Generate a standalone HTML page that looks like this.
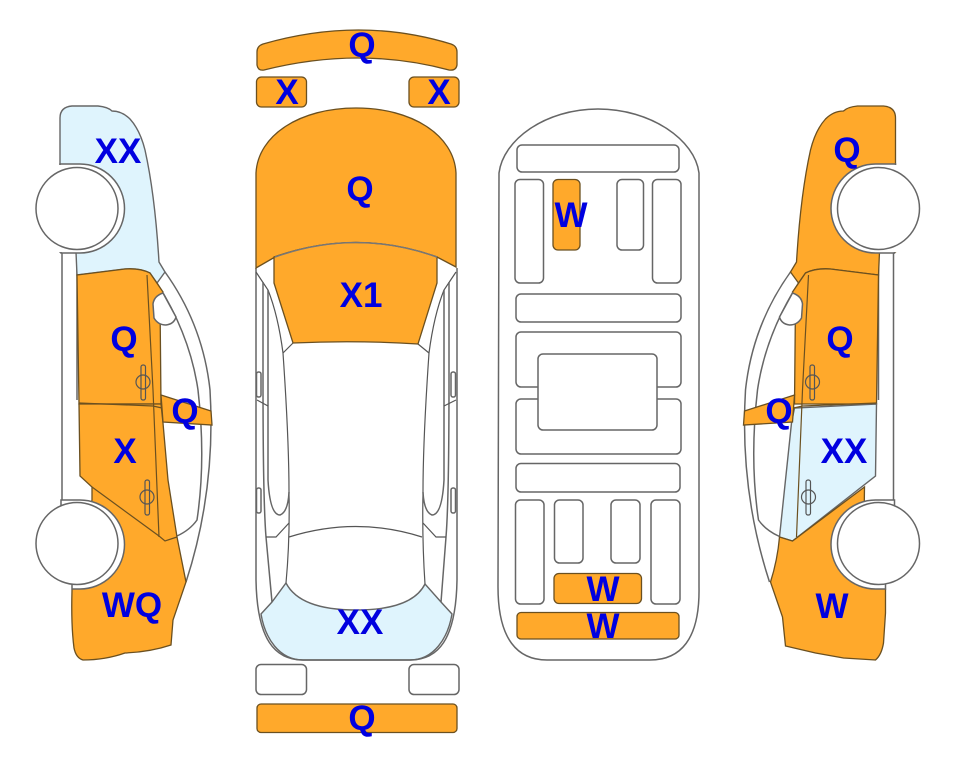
<!DOCTYPE html>
<html><head><meta charset="utf-8"><style>
html,body{margin:0;padding:0;background:#fff}
svg{display:block}
text{font-family:"Liberation Sans",sans-serif;font-weight:bold;font-size:35px;fill:#0000e0;text-anchor:middle}
.l{fill:none;stroke:#666;stroke-width:1.5}
.t{fill:none;stroke:#555;stroke-width:1.2}
.w{fill:#fff;stroke:#666;stroke-width:1.5}
.o{fill:#ffa92b;stroke:#6b5020;stroke-width:1.3}
.b{fill:#dff4fd;stroke:#666;stroke-width:1.4}
.d{fill:none;stroke:#6b5020;stroke-width:1.2}
</style></head><body>
<svg width="963" height="768" viewBox="0 0 963 768" xmlns="http://www.w3.org/2000/svg">
<rect width="963" height="768" fill="#fff"/>

<!-- LEFT CAR -->
<g>
<path class="l" d="M165 272 Q203 325 210 390 Q216 490 186 582"/>
<path class="l" d="M157 283 Q190 335 198 390 Q206 460 197 520 Q190 530 177 536 L165 541"/>
<path class="l" d="M62 253 V502 M77 253 V400"/>
<path class="b" d="M60 166 V118 Q60 107 72 106 L98 106 Q108 107 112 111 Q122 111 130 119 Q140 130 145 150 Q155 195 159 262 L165 272 L157 283 L150 273 Q140 268 125 269 L77 275 L76 252 L60 252 Z"/>
<path class="o" d="M77 275 L125 269 Q140 268 150 273 L163 292 L160 300 L161 404 L79 404 Z"/>
<path class="o" d="M79 404 L161 404 L163 423 L168 480 L177 537 L186 582 L173 620 L171 645 Q150 652 125 653 Q105 660 83 660 Q76 658 74 648 Q71 625 72 590 L92 500 L92 487 L80 476 Z"/>
<path class="d" d="M92 487 L159 536 L165 541 L177 537"/>
<path class="o" d="M161 395 L211 411 L212 425 L163 422 Z"/>
<path class="d" d="M147 275 L153 390 L159 537 M79 403 L153 406 L162 408"/>
<path class="w" d="M163 293 Q154 296 153 304 L154 318 Q158 325 166 325 Q174 324 176 317 Z"/>
<g class="t"><rect x="141" y="365" width="4.5" height="35" rx="2"/><ellipse cx="143" cy="382" rx="7" ry="7"/>
<rect x="145" y="480" width="4.5" height="35" rx="2"/><ellipse cx="147" cy="497" rx="7" ry="7"/></g>
<path fill="#fff" stroke="#666" stroke-width="1.5" d="M60 164 H80 A44.5 44.5 0 0 1 80 253 H61 Z"/>
<path fill="#fff" stroke="#666" stroke-width="1.5" d="M61 502 L61 500 H80 A44.5 44.5 0 0 1 80 589 H72 V560 H61 Z"/>
<path fill="#fff" stroke="none" d="M40 165 H62 V252 H40 Z M40 505 H60 V585 H40 Z"/>
<circle class="w" cx="77" cy="208.500" r="41"/>
<circle class="w" cx="77" cy="543.500" r="41"/>
</g>

<!-- RIGHT CAR -->
<g transform="translate(955.5 0) scale(-1 1)">
<path class="l" d="M165 272 Q203 325 210 390 Q216 490 186 582"/>
<path class="l" d="M157 283 Q190 335 198 390 Q206 460 197 520 Q190 530 177 536 L165 541"/>
<path class="l" d="M62 253 V502 M77 253 V400"/>
<path class="o" d="M60 166 V118 Q60 107 72 106 L98 106 Q108 107 112 111 Q122 111 130 119 Q140 130 145 150 Q155 195 159 262 L165 272 L157 283 L150 273 Q140 268 125 269 L77 275 L76 252 L60 252 Z"/>
<path class="o" d="M77 275 L125 269 Q140 268 150 273 L163 292 L160 300 L161 404 L79 404 Z"/>
<path class="b" d="M79 404 L161 408 L164 423 L176 537 L163 541 L80 476 Z"/>
<path class="o" d="M91 487 L163 541 L176 537 Q178 560 185 582 L173 617 L170 646 L140 653 L112 658 L80 660 Q74 655 72 643 L70 613 V589 L92 560 Z"/>
<path class="o" d="M161 395 L211 411 L212 425 L163 422 Z"/>
<path class="d" d="M147 275 L153 390 L159 537 M79 403 L153 406 L162 408"/>
<path class="w" d="M163 293 Q154 296 153 304 L154 318 Q158 325 166 325 Q174 324 176 317 Z"/>
<g class="t"><rect x="141" y="365" width="4.500" height="35" rx="2"/><ellipse cx="143" cy="382" rx="7" ry="7"/>
<rect x="145" y="480" width="4.500" height="35" rx="2"/><ellipse cx="147" cy="497" rx="7" ry="7"/></g>
<path fill="#fff" stroke="#666" stroke-width="1.5" d="M60 164 H80 A44.5 44.5 0 0 1 80 253 H61 Z"/>
<path fill="#fff" stroke="#666" stroke-width="1.5" d="M61 502 L61 500 H80 A44.500 44.500 0 0 1 80 589 H70 V560 H61 Z"/>
<path fill="#fff" stroke="none" d="M40 165 H62 V252 H40 Z M40 505 H60 V585 H40 Z"/>
<circle class="w" cx="77" cy="208.500" r="41"/>
<circle class="w" cx="77" cy="543.500" r="41"/>
</g>

<!-- CENTER CAR -->
<path class="o" d="M257 52 Q257 46 263 44 Q360 16 451 44 Q457 46 457 52 V65 Q456 71 449 70 Q360 46 264 70 Q258 71 257 65 Z"/>
<rect class="o" x="256.500" y="77" width="50" height="30" rx="5"/>
<rect class="o" x="409" y="77" width="50" height="30" rx="5"/>
<path class="b" d="M261 614 L272 602 L286 583 Q300 610 356 610 Q412 610 425 584 L441 602 L452 614 C448 638 434 660 410 660 H303 C279 660 265 638 261 614 Z"/>
<path class="l" d="M256 268 V580 C257 640 275 660 303 660 H410 C438 660 456 640 457 580 V268"/>
<g>
<path class="t" d="M256 272 L268 290 Q278 315 283 353 Q289 440 289 492 Q290 540 286 583"/>
<path class="l" d="M263 282 V380 Q263 500 266 537 L272 602"/>
<path class="l" d="M268 290 V480 Q270 515 280 515 Q288 512 289 492"/>
<path class="t" d="M293 343 L283 353 M257 400 L268 406 M266 537 H276 L289 523"/>
<rect class="l" x="256.500" y="372" width="4.500" height="25" rx="2"/>
<rect class="l" x="256.500" y="488" width="4.500" height="25" rx="2"/>
</g>
<g>
<path class="t" d="M456 272 L444 290 Q434 315 429 353 Q423 440 423 492 Q422 540 425 584"/>
<path class="l" d="M449 282 V380 Q449 500 446 537 L441 602"/>
<path class="l" d="M444 290 V480 Q442 515 432 515 Q424 512 423 492"/>
<path class="t" d="M418 344 L429 353 M456 400 L444 406 M446 537 H436 L423 523"/>
<rect class="l" x="451" y="372" width="4.500" height="25" rx="2"/>
<rect class="l" x="451" y="488" width="4.500" height="25" rx="2"/>
</g>
<path class="t" d="M289 537 Q356 516 422 537"/>
<path class="o" d="M256 268 V173 C258 135 300 108 356 108 C412 108 454 135 456 173 V267 L437 257 Q356 228 275 257 Z"/>
<path class="o" d="M274 257 Q356 228 437 257 V283 L418 344 Q356 340 293 343 L274 283 Z"/>
<path d="M275 257 Q356 228 437 257" fill="none" stroke="#777" stroke-width="1.500"/>
<rect class="w" x="256" y="664.500" width="50.500" height="30" rx="5"/>
<rect class="w" x="409" y="664.500" width="50" height="30" rx="5"/>
<rect class="o" x="257" y="704" width="200" height="28.500" rx="4"/>

<!-- UNDERBODY -->
<path class="w" d="M499 173 C503 140 545 109 598 109 C651 109 695 140 699 173 V587 C700 640 680 660 650 660 H547 C518 660 498 640 498 587 Z"/>
<rect class="w" x="517" y="145" width="162" height="27" rx="5"/>
<rect class="w" x="515" y="179.500" width="28.500" height="103.500" rx="5"/>
<rect class="o" x="553" y="179.500" width="27" height="70.500" rx="5"/>
<rect class="w" x="617" y="179.500" width="26.500" height="70.500" rx="5"/>
<rect class="w" x="652.500" y="179.500" width="28.500" height="103.500" rx="5"/>
<rect class="w" x="516" y="294" width="165" height="28" rx="5"/>
<rect class="w" x="516" y="332" width="165" height="55" rx="5"/>
<rect class="w" x="516" y="399" width="165" height="55" rx="5"/>
<rect class="w" x="538" y="354" width="119" height="76" rx="5"/>
<rect class="w" x="516" y="463.500" width="164" height="28.500" rx="5"/>
<rect class="w" x="515.500" y="500" width="28.500" height="104" rx="5"/>
<rect class="w" x="554.500" y="500" width="28.500" height="63" rx="5"/>
<rect class="w" x="611" y="500" width="29" height="63" rx="5"/>
<rect class="w" x="651" y="500" width="29" height="104" rx="5"/>
<rect class="o" x="554" y="573.500" width="87.500" height="30" rx="5"/>
<rect class="o" x="517" y="612.500" width="162" height="26.500" rx="4"/>

<!-- LABELS -->
<text x="118" y="163">XX</text>
<text x="124" y="351">Q</text>
<text x="185" y="423">Q</text>
<text x="125" y="463">X</text>
<text x="132" y="617">WQ</text>
<text x="362" y="57">Q</text>
<text x="287" y="104">X</text>
<text x="439" y="104">X</text>
<text x="360" y="201">Q</text>
<text x="361" y="307">X1</text>
<text x="360" y="634">XX</text>
<text x="362" y="730">Q</text>
<text x="571" y="227">W</text>
<text x="603" y="601">W</text>
<text x="603" y="638">W</text>
<text x="847" y="162">Q</text>
<text x="840" y="351">Q</text>
<text x="779" y="423">Q</text>
<text x="844" y="463">XX</text>
<text x="832" y="618">W</text>
</svg>
</body></html>
